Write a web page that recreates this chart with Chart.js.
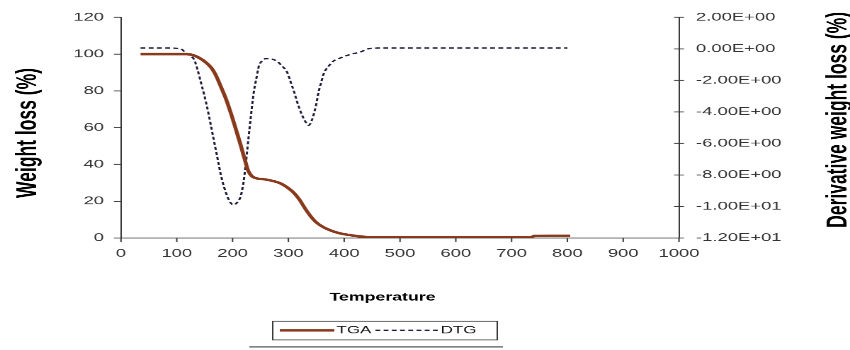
<!DOCTYPE html>
<html>
<head>
<meta charset="utf-8">
<script src="https://cdn.jsdelivr.net/npm/chart.js@4.4.1/dist/chart.umd.min.js"></script>
<style>
  html, body { margin: 0; padding: 0; background: #fff; overflow: hidden; }
  /* the reference is a stretched Excel export: draw at 600x400, show at 850x350 */
  #wrap { width: 600px; height: 400px; transform: scale(1.41667, 0.875); transform-origin: 0 0; }
</style>
</head>
<body>
<div id="wrap"><canvas id="tgaChart"></canvas></div>
<script>
// TGA curve (weight %, left axis)
const tgaTemp = [35, 60, 90, 118, 130, 141, 152, 162, 170, 178, 187, 196, 205, 214, 222, 228, 235, 245, 260, 275, 286, 298, 309, 320, 330, 340, 350, 362, 375, 390, 410, 430, 450, 550, 650, 735, 740, 770, 805];
const tgaWeight = [100, 100, 100, 100, 99.3, 97.8, 95.5, 92.5, 88.5, 83, 76.5, 68.7, 60, 51, 42.5, 36.5, 33.5, 32.3, 31.8, 30.8, 29.7, 27.5, 24.8, 20.8, 16, 11.8, 8.5, 6, 4.2, 2.7, 1.6, 0.8, 0.4, 0.4, 0.4, 0.4, 1.1, 1.2, 1.2];

// DTG curve (derivative, right axis)
const dtgTemp = [35, 60, 90, 107, 116, 124, 131, 137, 143, 149, 155, 161, 167, 173, 179, 185, 191, 196, 202, 208, 214, 219, 223, 226, 229, 233, 238, 243, 247, 253, 260, 271, 280, 289, 298, 304, 310, 316, 321, 327, 332, 336, 340, 345, 350, 354, 359, 363, 372, 381, 393, 405, 417, 429, 443, 460, 500, 600, 700, 800];
const dtgDeriv = [0.05, 0.05, 0.05, 0.0, -0.25, -0.45, -0.67, -1.3, -2.1, -2.9, -3.8, -4.85, -5.9, -6.95, -8.0, -8.8, -9.4, -9.75, -9.9, -9.75, -9.4, -8.6, -7.5, -6.5, -5.5, -4.2, -2.75, -1.8, -1.1, -0.75, -0.62, -0.65, -0.8, -1.1, -1.5, -2.1, -2.7, -3.4, -3.9, -4.4, -4.7, -4.85, -4.7, -4.2, -3.5, -2.75, -2.1, -1.6, -1.1, -0.77, -0.58, -0.42, -0.3, -0.2, 0, 0.05, 0.05, 0.05, 0.05, 0.05];

// axis ticks
const tempTicks = [0, 100, 200, 300, 400, 500, 600, 700, 800, 900, 1000];
const weightTicks = [0, 20, 40, 60, 80, 100, 120];
const derivTicks = [-12, -10, -8, -6, -4, -2, 0, 2];

const FONT = '"Liberation Sans", Arial, sans-serif';
const axisColor = '#3a3a3a';
const labelColor = '#333';

// Excel style: 2.00E+00
const sci = (v) => {
    const [m, e] = v.toExponential(2).split('e');
    const n = Number(e);
    return m + 'E' + (n < 0 ? '-' : '+') + String(Math.abs(n)).padStart(2, '0');
};

const fixTicks = (list) => (scale) => {
    scale.ticks = list.map(v => ({ value: v }));
};

// tick marks, axis titles and the boxed legend
const decorations = {
    id: 'decorations',
    afterDraw(chart) {
        const ctx = chart.ctx;
        const { x, y, y1 } = chart.scales;
        const area = chart.chartArea;
        ctx.save();

        ctx.strokeStyle = axisColor;
        ctx.lineWidth = 1;
        ctx.beginPath();
        x.ticks.forEach(t => {
            const px = x.getPixelForValue(t.value);
            ctx.moveTo(px, area.bottom);
            ctx.lineTo(px, area.bottom + 4.5);
        });
        y.ticks.forEach(t => {
            const py = y.getPixelForValue(t.value);
            ctx.moveTo(area.left - 5, py);
            ctx.lineTo(area.left, py);
        });
        y1.ticks.forEach(t => {
            const py = y1.getPixelForValue(t.value);
            ctx.moveTo(area.right - 3.5, py);
            ctx.lineTo(area.right + 3.5, py);
        });
        ctx.stroke();

        // axis titles
        ctx.fillStyle = '#000';
        ctx.textAlign = 'center';
        ctx.textBaseline = 'middle';
        ctx.font = 'bold 20px ' + FONT;
        ctx.save();
        ctx.translate(20, 152);
        ctx.rotate(-Math.PI / 2);
        ctx.fillText('Weight loss (%)', 0, 0);
        ctx.restore();
        ctx.save();
        ctx.translate(592, 137);
        ctx.rotate(-Math.PI / 2);
        ctx.fillText('Derivative weight loss (%)', 0, 0);
        ctx.restore();
        ctx.font = 'bold 12.5px ' + FONT;
        ctx.fillText('Temperature', 270, 340);

        // legend
        const [tga, dtg] = chart.data.datasets;
        const ly = 377.5;
        ctx.strokeStyle = axisColor;
        ctx.lineWidth = 1;
        ctx.strokeRect(192.5, 367, 158.5, 21.5);
        ctx.beginPath();
        ctx.moveTo(176, 396.5);
        ctx.lineTo(355, 396.5);
        ctx.lineWidth = 1.3;
        ctx.stroke();

        ctx.strokeStyle = tga.borderColor;
        ctx.lineWidth = tga.borderWidth;
        ctx.beginPath();
        ctx.moveTo(197.5, ly);
        ctx.lineTo(236, ly);
        ctx.stroke();

        ctx.strokeStyle = dtg.borderColor;
        ctx.lineWidth = dtg.borderWidth;
        ctx.setLineDash(dtg.borderDash);
        ctx.beginPath();
        ctx.moveTo(265, ly);
        ctx.lineTo(309.5, ly);
        ctx.stroke();
        ctx.setLineDash([]);

        ctx.fillStyle = '#111';
        ctx.font = '12px ' + FONT;
        ctx.textAlign = 'left';
        ctx.fillText('TGA', 237.5, ly);
        ctx.fillText('DTG', 311, ly);

        ctx.restore();
    }
};

const noGrid = { display: false, drawTicks: false, tickLength: 0 };

new Chart(document.getElementById('tgaChart'), {
    type: 'line',
    data: {
        datasets: [
            {
                label: 'TGA',
                data: tgaTemp.map((t, i) => ({ x: t, y: tgaWeight[i] })),
                borderColor: '#8a3a1c',
                borderWidth: 2.8,
                cubicInterpolationMode: 'monotone',
                pointRadius: 0,
                yAxisID: 'y'
            },
            {
                label: 'DTG',
                data: dtgTemp.map((t, i) => ({ x: t, y: dtgDeriv[i] })),
                borderColor: '#1c1c3a',
                borderWidth: 1.5,
                borderDash: [3.4, 2.4],
                cubicInterpolationMode: 'monotone',
                pointRadius: 0,
                yAxisID: 'y1'
            }
        ]
    },
    options: {
        responsive: true,
        maintainAspectRatio: false,
        devicePixelRatio: 2,
        animation: false,
        layout: { padding: { top: 16, left: 0, right: 0, bottom: 0 } },
        plugins: {
            legend: { display: false },
            tooltip: { enabled: false }
        },
        scales: {
            x: {
                type: 'linear',
                min: tempTicks[0],
                max: tempTicks[tempTicks.length - 1],
                afterBuildTicks: fixTicks(tempTicks),
                afterFit: (s) => { s.height = 128; },
                grid: noGrid,
                border: { color: axisColor, width: 1 },
                ticks: { autoSkip: false, maxRotation: 0, padding: 10, color: labelColor, font: { family: FONT, size: 13 }, callback: (v) => String(v) }
            },
            y: {
                position: 'left',
                min: weightTicks[0],
                max: weightTicks[weightTicks.length - 1],
                afterBuildTicks: fixTicks(weightTicks),
                afterFit: (s) => { s.width = 85.4; },
                grid: noGrid,
                border: { color: axisColor, width: 1 },
                ticks: { autoSkip: false, padding: 12, color: labelColor, font: { family: FONT, size: 13 } }
            },
            y1: {
                position: 'right',
                min: derivTicks[0],
                max: derivTicks[derivTicks.length - 1],
                afterBuildTicks: fixTicks(derivTicks),
                afterFit: (s) => { s.width = 120.7; },
                grid: noGrid,
                border: { color: axisColor, width: 1 },
                ticks: { autoSkip: false, padding: 12, color: labelColor, font: { family: FONT, size: 13 }, callback: (v) => sci(v) }
            }
        }
    },
    plugins: [decorations]
});
</script>
</body>
</html>
